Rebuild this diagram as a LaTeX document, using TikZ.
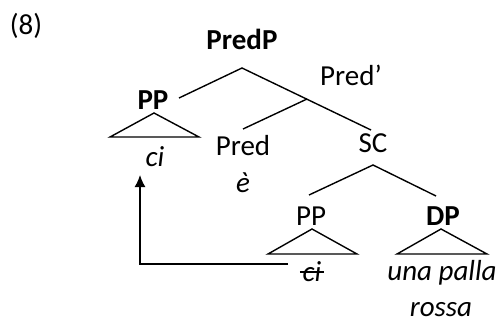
\documentclass[tikz,border=0pt]{standalone}
\usepackage{fontspec}
\setmainfont{Carlito}
\usetikzlibrary{arrows.meta}

\begin{document}
\begin{tikzpicture}[x=0.5pt,y=-0.5pt,line width=0.7pt,
    every node/.style={font=\fontsize{14.5}{17}\selectfont,inner sep=1pt},
    cat/.style={font=\fontsize{14.5}{17}\selectfont\bfseries},
    word/.style={font=\fontsize{14.5}{17}\selectfont\itshape}]
      \useasboundingbox (0,0) rectangle (501,322);

      \node (ex) at (26,26) {(8)};

      % labels
      \node[cat] (predP) at (242,39) {PredP};
      \node (predbar) at (351,75) {Pred’};
      \node[cat] (pp1) at (153,100) {PP};
      \node[word] (ci1) at (155,157) {ci};
      \node (pred) at (243,146) {Pred};
      \node[word] (e) at (243,183) {è};
      \node (sc) at (373,143) {SC};
      \node (pp2) at (311,216) {PP};
      \node[cat] (dp) at (443,216) {DP};
      \node[word] (ci2) at (312,272) {ci};
      \node[word] (una) at (442,273) {una palla};
      \node[word] (rossa) at (441,310) {rossa};

      % branch points
      \coordinate (predP-b) at (242,68);
      \coordinate (pp1-t) at (179,98);
      \coordinate (predbar-b) at (307,99);
      \coordinate (pred-t) at (243,129);
      \coordinate (sc-t) at (371,130);
      \coordinate (sc-b) at (373,165);
      \coordinate (pp2-t) at (309,195);
      \coordinate (dp-t) at (436,196);
      \coordinate (tri1) at (154,113);
      \coordinate (tri2) at (312,229);
      \coordinate (tri3) at (441,229);
      \coordinate (trace) at (288,264);
      \coordinate (landing) at (140,175);

      \draw (pp1-t) -- (predP-b) -- (sc-t);
      \draw (predbar-b) -- (pred-t);
      \draw (pp2-t) -- (sc-b) -- (dp-t);
      \draw (tri1) -- ++(-44,24) -- ++(89,0) -- cycle;
      \draw (tri2) -- ++(-44,25) -- ++(89,0) -- cycle;
      \draw (tri3) -- ++(-44,25) -- ++(90,0) -- cycle;

      % struck-out trace
      \draw[line width=0.6pt] (ci2.west) -- (ci2.east);

      \draw[-{Latex[length=6pt,width=5.5pt]}] (trace) -| (landing);
    \end{tikzpicture}
\end{document}
